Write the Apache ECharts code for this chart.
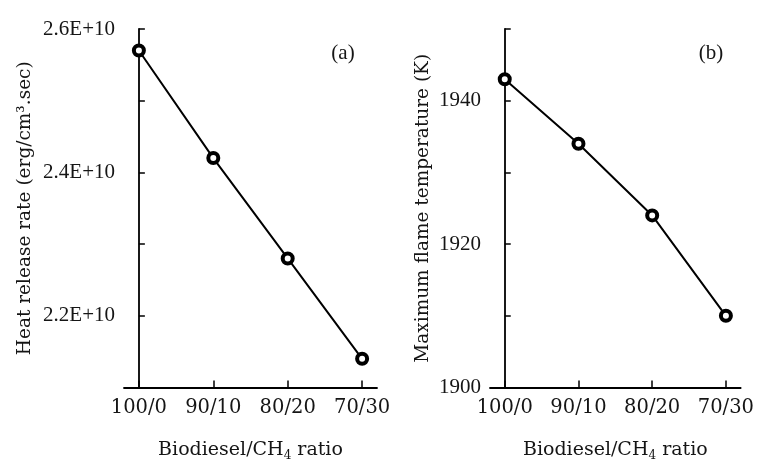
<!DOCTYPE html>
<html>
<head>
<meta charset="utf-8">
<script src="https://cdn.jsdelivr.net/npm/echarts@6/dist/echarts.min.js"></script>
<style>
html,body{margin:0;padding:0;background:#fff;}
#chart{width:757px;height:467px;}
</style>
</head>
<body>
<div id="chart"></div>
<script>
// ---- data ----
const categories = ['100/0', '90/10', '80/20', '70/30'];
const heatRelease = [2.57e10, 2.42e10, 2.28e10, 2.14e10]; // erg/cm3.sec
const flameTemp = [1943, 1934, 1924, 1910]; // K
const heatTicks = ['2.2E+10', '2.4E+10', '2.6E+10'];
const tempTicks = ['1900', '1920', '1940'];
const panelLabels = ['(a)', '(b)'];

const serif = 'DejaVu Serif';
const tickSerif = 'Liberation Serif';
const catPositions = categories.map((c, i) => i);

const chart = echarts.init(document.getElementById('chart'), null, {renderer: 'canvas'});

function xAxisFor(gridIndex) {
  return {
    type: 'value', gridIndex: gridIndex, min: -0.2, max: 3.2,
    name: 'Biodiesel/CH{sub|4} ratio', nameLocation: 'middle', nameGap: 53,
    nameTextStyle: {
      fontFamily: serif, fontSize: 19, color: '#151515',
      rich: { sub: { fontFamily: serif, fontSize: 12, lineHeight: 12, padding: [12, 0, 0, 0] } }
    },
    axisLine: { show: true, onZero: false, lineStyle: { color: '#000', width: 1.8 } },
    axisTick: { show: true, inside: true, length: 7, customValues: catPositions, lineStyle: { color: '#000', width: 1.5 } },
    splitLine: { show: false },
    axisLabel: {
      margin: 10, fontFamily: serif, fontSize: 19.5, color: '#151515',
      customValues: catPositions,
      formatter: function (v) {
        const i = Math.round(v);
        return categories[i] !== undefined ? categories[i] : '';
      }
    }
  };
}

const option = {
  animation: false,
  backgroundColor: '#fff',
  grid: [
    { left: 124, top: 29, width: 253, height: 363 },
    { left: 490, top: 29, width: 253, height: 363 }
  ],
  xAxis: [xAxisFor(0), xAxisFor(1)],
  yAxis: [
    {
      type: 'value', gridIndex: 0, min: 2.1e10, max: 2.6e10, interval: 1e9,
      name: 'Heat release rate (erg/cm³.sec)', nameLocation: 'middle', nameGap: 89,
      nameTextStyle: { fontFamily: serif, fontSize: 18.5, color: '#151515' },
      axisLine: { show: true, lineStyle: { color: '#000', width: 1.8 } },
      axisTick: { show: true, inside: true, length: 6, lineStyle: { color: '#000', width: 1.5 } },
      splitLine: { show: false },
      axisLabel: {
        margin: 9, fontFamily: tickSerif, fontSize: 21, color: '#151515',
        formatter: function (v) {
          const k = Math.round(v / 1e9);
          const idx = (k - 22) / 2;
          return (k % 2 === 0 && heatTicks[idx] !== undefined) ? heatTicks[idx] : '';
        }
      }
    },
    {
      type: 'value', gridIndex: 1, min: 1900, max: 1950, interval: 10,
      name: 'Maximum flame temperature (K)', nameLocation: 'middle', nameGap: 57,
      nameTextStyle: { fontFamily: serif, fontSize: 18.5, color: '#151515' },
      axisLine: { show: true, lineStyle: { color: '#000', width: 1.8 } },
      axisTick: { show: true, inside: true, length: 6, lineStyle: { color: '#000', width: 1.5 } },
      splitLine: { show: false },
      axisLabel: {
        margin: 9, fontFamily: tickSerif, fontSize: 21, color: '#151515',
        formatter: function (v) {
          const k = Math.round(v);
          const idx = (k - 1900) / 20;
          return (tempTicks[idx] !== undefined) ? tempTicks[idx] : '';
        }
      }
    }
  ],
  series: [
    {
      type: 'line', xAxisIndex: 0, yAxisIndex: 0,
      data: heatRelease.map((v, i) => [i, v]),
      symbol: 'circle', symbolSize: 10,
      lineStyle: { color: '#000', width: 2 },
      itemStyle: { color: '#fff', borderColor: '#000', borderWidth: 4 }
    },
    {
      type: 'line', xAxisIndex: 1, yAxisIndex: 1,
      data: flameTemp.map((v, i) => [i, v]),
      symbol: 'circle', symbolSize: 10,
      lineStyle: { color: '#000', width: 2 },
      itemStyle: { color: '#fff', borderColor: '#000', borderWidth: 4 }
    }
  ],
  graphic: [
    { type: 'text', x: 343, y: 53, style: { text: panelLabels[0], fontFamily: tickSerif, fontSize: 21, fill: '#151515', textAlign: 'center', textVerticalAlign: 'middle' } },
    { type: 'text', x: 711, y: 53, style: { text: panelLabels[1], fontFamily: tickSerif, fontSize: 21, fill: '#151515', textAlign: 'center', textVerticalAlign: 'middle' } }
  ]
};
chart.setOption(option);
</script>
</body>
</html>
